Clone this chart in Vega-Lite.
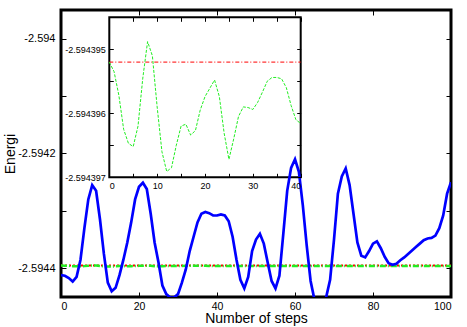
{
  "$schema": "https://vega.github.io/schema/vega-lite/v6.json",
  "width": 390,
  "height": 287,
  "autosize": {"type": "none"},
  "padding": {"left": 61, "top": 10, "right": 16, "bottom": 30},
  "background": "white",
  "config": {
    "view": {"stroke": "black", "strokeWidth": 3},
    "font": "Liberation Sans",
    "axis": {"grid": false, "domain": false, "tickColor": "black", "labelColor": "black", "titleColor": "black", "titleFontWeight": "normal", "tickWidth": 1}
  },
  "datasets": {
    "blue": [
      {"step": 0, "energy": -2.594412}, {"step": 1, "energy": -2.594413}, {"step": 2, "energy": -2.594417}, {"step": 3, "energy": -2.594423}, {"step": 4, "energy": -2.594415},
      {"step": 5, "energy": -2.594385}, {"step": 6, "energy": -2.59433}, {"step": 7, "energy": -2.59428}, {"step": 8, "energy": -2.594255}, {"step": 9, "energy": -2.594265},
      {"step": 10, "energy": -2.594315}, {"step": 11, "energy": -2.594375}, {"step": 12, "energy": -2.594425}, {"step": 13, "energy": -2.59444}, {"step": 14, "energy": -2.594434},
      {"step": 15, "energy": -2.594412}, {"step": 16, "energy": -2.594385}, {"step": 17, "energy": -2.594355}, {"step": 18, "energy": -2.59432}, {"step": 19, "energy": -2.59428},
      {"step": 20, "energy": -2.594258}, {"step": 21, "energy": -2.594251}, {"step": 22, "energy": -2.594262}, {"step": 23, "energy": -2.594305}, {"step": 24, "energy": -2.594355},
      {"step": 25, "energy": -2.59439}, {"step": 26, "energy": -2.59443}, {"step": 27, "energy": -2.594445}, {"step": 28, "energy": -2.594451}, {"step": 29, "energy": -2.594451},
      {"step": 30, "energy": -2.594445}, {"step": 31, "energy": -2.594425}, {"step": 32, "energy": -2.594402}, {"step": 33, "energy": -2.59437}, {"step": 34, "energy": -2.594345},
      {"step": 35, "energy": -2.59432}, {"step": 36, "energy": -2.594305}, {"step": 37, "energy": -2.594302}, {"step": 38, "energy": -2.594304}, {"step": 39, "energy": -2.594308},
      {"step": 40, "energy": -2.594308}, {"step": 41, "energy": -2.594306}, {"step": 42, "energy": -2.594308}, {"step": 43, "energy": -2.594318}, {"step": 44, "energy": -2.594345},
      {"step": 45, "energy": -2.594385}, {"step": 46, "energy": -2.59442}, {"step": 47, "energy": -2.594435}, {"step": 48, "energy": -2.594415}, {"step": 49, "energy": -2.59437},
      {"step": 50, "energy": -2.59435}, {"step": 51, "energy": -2.59434}, {"step": 52, "energy": -2.594357}, {"step": 53, "energy": -2.59439}, {"step": 54, "energy": -2.594422},
      {"step": 55, "energy": -2.594435}, {"step": 56, "energy": -2.594413}, {"step": 57, "energy": -2.59434}, {"step": 58, "energy": -2.594265}, {"step": 59, "energy": -2.594225},
      {"step": 60, "energy": -2.59421}, {"step": 61, "energy": -2.594232}, {"step": 62, "energy": -2.59429}, {"step": 63, "energy": -2.59436}, {"step": 64, "energy": -2.594422},
      {"step": 65, "energy": -2.594455}, {"step": 66, "energy": -2.59448}, {"step": 67, "energy": -2.59448}, {"step": 68, "energy": -2.59445}, {"step": 69, "energy": -2.59442},
      {"step": 70, "energy": -2.59435}, {"step": 71, "energy": -2.59427}, {"step": 72, "energy": -2.59424}, {"step": 73, "energy": -2.594226}, {"step": 74, "energy": -2.594255},
      {"step": 75, "energy": -2.594305}, {"step": 76, "energy": -2.594355}, {"step": 77, "energy": -2.594378}, {"step": 78, "energy": -2.594381}, {"step": 79, "energy": -2.59437},
      {"step": 80, "energy": -2.594357}, {"step": 81, "energy": -2.594353}, {"step": 82, "energy": -2.594365}, {"step": 83, "energy": -2.59438}, {"step": 84, "energy": -2.594391},
      {"step": 85, "energy": -2.594394}, {"step": 86, "energy": -2.594392}, {"step": 87, "energy": -2.594386}, {"step": 88, "energy": -2.594381}, {"step": 89, "energy": -2.594375},
      {"step": 90, "energy": -2.594369}, {"step": 91, "energy": -2.594363}, {"step": 92, "energy": -2.594357}, {"step": 93, "energy": -2.594351}, {"step": 94, "energy": -2.594348},
      {"step": 95, "energy": -2.594347}, {"step": 96, "energy": -2.594343}, {"step": 97, "energy": -2.59433}, {"step": 98, "energy": -2.594308}, {"step": 99, "energy": -2.59427},
      {"step": 100, "energy": -2.59425}
    ],
    "green": [
      {"step": 0, "energy": -2.5943952}, {"step": 1, "energy": -2.59439535}, {"step": 2, "energy": -2.59439572}, {"step": 3, "energy": -2.59439625}, {"step": 4, "energy": -2.59439647},
      {"step": 5, "energy": -2.59439652}, {"step": 6, "energy": -2.5943962}, {"step": 7, "energy": -2.59439545}, {"step": 8, "energy": -2.59439488}, {"step": 9, "energy": -2.5943951},
      {"step": 10, "energy": -2.5943959}, {"step": 11, "energy": -2.5943966}, {"step": 12, "energy": -2.59439691}, {"step": 13, "energy": -2.59439685}, {"step": 14, "energy": -2.5943965},
      {"step": 15, "energy": -2.5943962}, {"step": 16, "energy": -2.59439617}, {"step": 17, "energy": -2.59439634}, {"step": 18, "energy": -2.59439627}, {"step": 19, "energy": -2.59439595},
      {"step": 20, "energy": -2.59439574}, {"step": 21, "energy": -2.59439561}, {"step": 22, "energy": -2.59439548}, {"step": 23, "energy": -2.59439574}, {"step": 24, "energy": -2.59439631},
      {"step": 25, "energy": -2.59439672}, {"step": 26, "energy": -2.5943964}, {"step": 27, "energy": -2.59439605}, {"step": 28, "energy": -2.5943959}, {"step": 29, "energy": -2.59439591},
      {"step": 30, "energy": -2.59439594}, {"step": 31, "energy": -2.59439583}, {"step": 32, "energy": -2.59439567}, {"step": 33, "energy": -2.5943955}, {"step": 34, "energy": -2.59439544},
      {"step": 35, "energy": -2.59439544}, {"step": 36, "energy": -2.59439546}, {"step": 37, "energy": -2.5943956}, {"step": 38, "energy": -2.59439588}, {"step": 39, "energy": -2.5943961},
      {"step": 40, "energy": -2.59439616}, {"step": 50, "energy": -2.5943959}, {"step": 60, "energy": -2.5943958}, {"step": 70, "energy": -2.5943960},
      {"step": 80, "energy": -2.5943959}, {"step": 90, "energy": -2.5943958}, {"step": 100, "energy": -2.5943959}
    ],
    "red": [
      {"step": 0, "energy": -2.5943952}, {"step": 40, "energy": -2.5943952}, {"step": 100, "energy": -2.5943952}
    ],
    "frame": [
      {"x1": 0, "x2": 40, "y1": -2.594397, "y2": -2.5943945}
    ]
  },
  "resolve": {
    "scale": {"x": "independent", "y": "independent"},
    "axis": {"x": "independent", "y": "independent"}
  },
  "layer": [
    {
      "layer": [
        {
          "data": {"name": "frame"},
          "mark": {"type": "rect", "fill": "white", "stroke": "black", "strokeWidth": 2},
          "encoding": {
            "x": {"field": "x1", "type": "quantitative",
              "scale": {"domain": [0, 40], "range": [48.3, 239.7], "nice": false, "zero": false},
              "axis": {"orient": "bottom", "offset": -119.7, "title": null, "values": [0, 5, 10, 15, 20, 25, 30, 35, 40],
                "labelExpr": "datum.value % 10 == 0 ? datum.label : ''", "tickSize": -4, "labelPadding": 8, "labelFontSize": 9, "zindex": 1}},
            "x2": {"field": "x2"},
            "y": {"field": "y1", "type": "quantitative",
              "scale": {"domain": [-2.594397, -2.5943945], "range": [167.3, 7.3], "nice": false, "zero": false},
              "axis": {"orient": "left", "offset": -48.3, "title": null,
                "values": [-2.594397, -2.5943965, -2.594396, -2.5943955, -2.594395, -2.5943945],
                "labelExpr": "abs(round(datum.value * 1e7)) % 10 == 0 ? replace(format(datum.value, '.6f'), '\u2212', '-') : ''",
                "tickSize": -4, "labelPadding": 8, "labelFontSize": 9, "zindex": 1}},
            "y2": {"field": "y2"}
          }
        },
        {
          "data": {"name": "red"},
          "transform": [{"filter": "datum.step <= 40"}],
          "mark": {"type": "line", "color": "#ff0000", "strokeWidth": 1, "strokeDash": [4, 2, 1, 2]},
          "encoding": {
            "x": {"field": "step", "type": "quantitative"},
            "y": {"field": "energy", "type": "quantitative"}
          }
        },
        {
          "data": {"name": "green"},
          "transform": [{"filter": "datum.step <= 40"}],
          "mark": {"type": "line", "color": "#22ee22", "strokeWidth": 1, "strokeDash": [3, 1.5]},
          "encoding": {
            "x": {"field": "step", "type": "quantitative"},
            "y": {"field": "energy", "type": "quantitative"}
          }
        }
      ]
    },
    {
      "data": {"name": "frame"},
      "mark": {"type": "point", "opacity": 0},
      "encoding": {
        "x": {"field": "x1", "type": "quantitative",
          "scale": {"domain": [0, 40], "range": [48.3, 239.7], "nice": false, "zero": false},
          "axis": {"orient": "top", "offset": -7.3, "title": null, "labels": false, "values": [0, 5, 10, 15, 20, 25, 30, 35, 40], "tickSize": -4, "zindex": 1}},
        "y": {"field": "y1", "type": "quantitative",
          "scale": {"domain": [-2.594397, -2.5943945], "range": [167.3, 7.3], "nice": false, "zero": false},
          "axis": {"orient": "right", "offset": -150.3, "title": null, "labels": false,
            "values": [-2.594397, -2.5943965, -2.594396, -2.5943955, -2.594395, -2.5943945], "tickSize": -4, "zindex": 1}}
      }
    },
    {
      "layer": [
        {
          "data": {"name": "red"},
          "mark": {"type": "line", "color": "#ff0000", "strokeWidth": 2, "strokeDash": [2, 2]},
          "encoding": {
            "x": {"field": "step", "type": "quantitative",
              "scale": {"domain": [0, 100], "nice": false, "zero": false},
              "axis": {"orient": "bottom", "title": "Number of steps", "values": [0, 20, 40, 60, 80, 100],
                "tickSize": -5, "labelPadding": 9, "labelFontSize": 10.5, "titleFontSize": 14, "titlePadding": 0, "zindex": 1}},
            "y": {"field": "energy", "type": "quantitative",
              "scale": {"domain": [-2.59445, -2.59395], "nice": false, "zero": false},
              "axis": {"orient": "left", "title": "Energi", "values": [-2.5944, -2.5943, -2.5942, -2.5941, -2.594],
                "labelExpr": "round(datum.value * 1e4) % 2 == 0 ? replace(format(datum.value, '.4~f'), '\u2212', '-') : ''",
                "tickSize": -5, "labelPadding": 11, "labelFontSize": 11, "titleFontSize": 14, "titlePadding": 0, "zindex": 1}}
          }
        },
        {
          "data": {"name": "green"},
          "mark": {"type": "line", "color": "#22ee22", "strokeWidth": 2.5, "strokeDash": [6, 2, 1, 2]},
          "encoding": {
            "x": {"field": "step", "type": "quantitative"},
            "y": {"field": "energy", "type": "quantitative"}
          }
        },
        {
          "data": {"name": "blue"},
          "mark": {"type": "line", "color": "#0000ff", "strokeWidth": 2.7, "clip": true},
          "encoding": {
            "x": {"field": "step", "type": "quantitative"},
            "y": {"field": "energy", "type": "quantitative"}
          }
        }
      ]
    },
    {
      "data": {"name": "red"},
      "mark": {"type": "point", "opacity": 0},
      "encoding": {
        "x": {"field": "step", "type": "quantitative",
          "scale": {"domain": [0, 100], "nice": false, "zero": false},
          "axis": {"orient": "top", "title": null, "labels": false, "values": [0, 20, 40, 60, 80, 100], "tickSize": -5, "zindex": 1}},
        "y": {"field": "energy", "type": "quantitative",
          "scale": {"domain": [-2.59445, -2.59395], "nice": false, "zero": false},
          "axis": {"orient": "right", "title": null, "labels": false, "values": [-2.5944, -2.5943, -2.5942, -2.5941, -2.594], "tickSize": -5, "zindex": 1}}
      }
    }
  ]
}
